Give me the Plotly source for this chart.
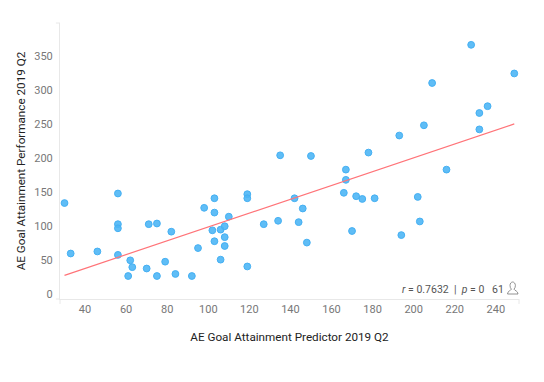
import plotly.graph_objects as go

predictor = [30, 33, 46, 56, 56, 56, 56, 62, 63, 61, 70, 71, 75, 75, 79, 82, 84, 92, 95, 98,
             102, 103, 103, 103, 106, 106, 108, 108, 108, 110, 119, 119, 119, 127,
             134, 142, 144, 146, 148, 166, 170, 172, 175, 181, 194, 202, 203,
             228, 249, 209, 236, 232, 232, 205, 193, 178, 135, 150, 167, 167, 216]
performance = [134, 60, 63, 148, 103, 97, 58, 50, 40, 27, 38, 103, 104, 27, 48, 92, 30, 27, 68, 127,
               94, 141, 120, 78, 95, 51, 100, 84, 71, 114, 147, 141, 41, 103,
               108, 141, 106, 126, 76, 149, 93, 144, 140, 141, 87, 143, 107,
               366, 324, 310, 276, 266, 242, 248, 233, 208, 204, 203, 183, 168, 183]
trend_x = [30, 249]
trend_y = [28, 250]
x_ticks = [40, 60, 80, 100, 120, 140, 160, 180, 200, 220, 240]
y_ticks = [0, 50, 100, 150, 200, 250, 300, 350]
x_title = "AE Goal Attainment Predictor 2019 Q2"
y_title = "AE Goal Attainment Performance 2019 Q2"
stats = "<i>r</i> = 0.7632  |  <i>p</i> = 0   61"

FONT = "Roboto, sans-serif"
AXIS = "#e8e8e8"
TICK = "#777777"

fig = go.Figure()
fig.add_trace(go.Scatter(x=predictor, y=performance, mode="markers", hoverinfo="x+y",
                         marker=dict(size=6.8, color="rgba(78,182,245,0.9)",
                                     line=dict(color="#45b0f3", width=1))))
fig.add_trace(go.Scatter(x=trend_x, y=trend_y, mode="lines", hoverinfo="skip",
                         line=dict(color="#ff7378", width=1.2)))

icon = ("M-11.5,5 L-1,5 C-1,8 -4.4,8.4 -5,9.8 C-4.2,10.8 -3.6,11.8 -3.6,13.4 "
        "C-3.6,15.6 -5,17 -6.3,17 C-7.8,17 -9,15.6 -9,13.4 "
        "C-9,11.8 -8.4,10.8 -7.6,9.8 C-8.2,8.4 -11.5,8 -11.5,5 Z")

fig.update_layout(
    width=528, height=366, autosize=False, showlegend=False,
    margin=dict(l=51.5, r=17.3, t=14.7, b=74.7),
    paper_bgcolor="white", plot_bgcolor="white",
    font=dict(family=FONT, size=12, color="#666666"),
    xaxis=dict(range=[27.8, 251.3], tickvals=x_ticks, showgrid=False, zeroline=False,
               showline=True, linecolor=AXIS, linewidth=1, ticks="", automargin=False,
               tickfont=dict(size=11, color=TICK),
               title=dict(text=x_title, standoff=17, font=dict(size=11.7, color="#222222"))),
    yaxis=dict(range=[-6.7, 398], tickvals=y_ticks, showgrid=False, zeroline=False,
               showline=True, linecolor=AXIS, linewidth=1, automargin=False,
               ticks="outside", ticklen=4, tickcolor="rgba(0,0,0,0)",
               tickfont=dict(size=11, color=TICK),
               title=dict(text=y_title, standoff=6, font=dict(size=11.7, color="#222222"))),
    annotations=[dict(xref="paper", yref="paper", x=0.9717, y=0.003, xanchor="right", yanchor="bottom",
                      text=stats, showarrow=False, font=dict(size=10.5, color="#555555"))],
    shapes=[
        dict(type="line", xref="paper", yref="paper", x0=-0.009, x1=0, y0=1, y1=1,
             line=dict(color=AXIS, width=1)),
        dict(type="line", xref="paper", yref="paper", x0=-0.009, x1=0, y0=0, y1=0,
             line=dict(color=AXIS, width=1)),
        dict(type="line", xref="paper", yref="paper", x0=0, x1=0, y0=0, y1=-0.018,
             line=dict(color=AXIS, width=1)),
        dict(type="line", xref="paper", yref="paper", x0=1, x1=1, y0=0, y1=-0.018,
             line=dict(color=AXIS, width=1)),
        dict(type="path", xref="paper", yref="paper", xsizemode="pixel", ysizemode="pixel",
             xanchor=1, yanchor=0, path=icon, line=dict(color="#777777", width=0.8)),
    ],
)
fig.write_html("out.html")
